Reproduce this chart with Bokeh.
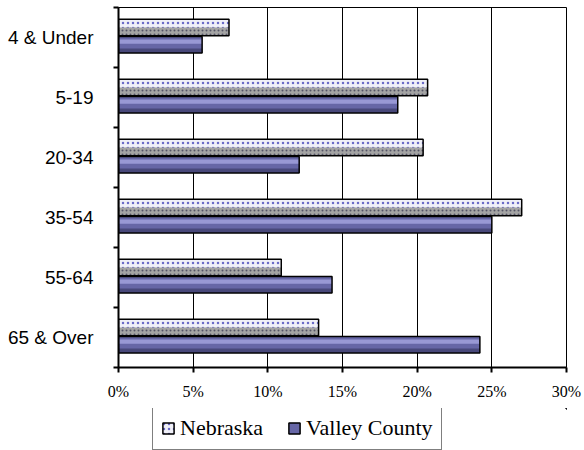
from bokeh.plotting import figure
from bokeh.layouts import column
from bokeh.models import (Range1d, FixedTicker, Legend, LegendItem,
                          PrintfTickFormatter, ColumnDataSource)
from bokeh.transform import dodge
from bokeh.embed import file_html
from bokeh.resources import INLINE

age_groups = ["4 & Under", "5-19", "20-34", "35-54", "55-64", "65 & Over"]
nebraska = [7.4, 20.7, 20.4, 27.0, 10.9, 13.4]
valley_county = [5.6, 18.7, 12.1, 25.0, 14.3, 24.2]
x_ticks = [0, 5, 10, 15, 20, 25, 30]

n = len(age_groups)
centers = [n - i - 0.5 for i in range(n)]

src = ColumnDataSource(dict(cat=age_groups, y=centers, ne=nebraska, vc=valley_county))

p = figure(width=584, height=408, output_backend="svg", toolbar_location=None,
           x_range=Range1d(0, 30), y_range=Range1d(0, n),
           min_border_left=118, min_border_right=18, min_border_top=7,
           min_border_bottom=41)
p.background_fill_color = "white"
p.border_fill_color = "white"
p.outline_line_color = "black"
p.outline_line_width = 1

NE_OFF = 0.165
VC_OFF = -0.12
H = 0.275

NE_TOP = dict(fill_color="#f0f0f8", hatch_pattern="dot", hatch_color="#6a6ac8",
              hatch_scale=5, hatch_weight=1.2)
NE_BOT = dict(fill_color="#a4a4a4", hatch_pattern="dot", hatch_color="#555566",
              hatch_scale=4, hatch_weight=1.0, line_color=None)
OUT = dict(fill_alpha=0, line_color="black", line_width=1.5)
VC_MAIN = dict(fill_color="#6666a6")

# Nebraska bars (dotted, bevelled look)
p.hbar(y=dodge("y", NE_OFF), left=0, right="ne", height=H, source=src,
       line_color=None, **NE_TOP)
p.hbar(y=dodge("y", NE_OFF - H / 4), left=0, right="ne", height=H / 2, source=src, **NE_BOT)
p.hbar(y=dodge("y", NE_OFF), left=0, right="ne", height=H, source=src, **OUT)

# Valley County bars (blue-purple cylinder look)
p.hbar(y=dodge("y", VC_OFF), left=0, right="vc", height=H, source=src,
       line_color=None, **VC_MAIN)
p.hbar(y=dodge("y", VC_OFF + 0.05), left=0, right="vc", height=0.07, source=src,
       fill_color="#9898d4", line_color=None)
p.hbar(y=dodge("y", VC_OFF - 0.1), left=0, right="vc", height=0.07, source=src,
       fill_color="#48487a", line_color=None)
p.hbar(y=dodge("y", VC_OFF), left=0, right="vc", height=H, source=src, **OUT)

# grid
p.xgrid.ticker = FixedTicker(ticks=x_ticks)
p.xgrid.grid_line_color = "black"
p.xgrid.grid_line_width = 1
p.ygrid.grid_line_color = None

# x axis
xa = p.xaxis[0]
xa.ticker = FixedTicker(ticks=x_ticks)
xa.formatter = PrintfTickFormatter(format="%d%%")
xa.major_label_text_font = "Liberation Serif"
xa.major_label_text_font_size = "16px"
xa.major_label_text_color = "black"
xa.major_tick_out = 5
xa.major_tick_in = 0
xa.major_tick_line_color = "black"
xa.major_tick_line_width = 2
xa.minor_tick_line_color = None
xa.axis_line_color = "black"
xa.axis_line_width = 2
xa.major_label_standoff = 10

# y axis
ya = p.yaxis[0]
ya.ticker = FixedTicker(ticks=centers, minor_ticks=list(range(n + 1)))
ya.major_label_overrides = {c: lab for c, lab in zip(centers, age_groups)}
ya.major_label_text_font = "Liberation Sans"
ya.major_label_text_font_size = "19px"
ya.major_label_text_color = "black"
ya.major_tick_line_color = None
ya.major_tick_out = 0
ya.major_tick_in = 0
ya.minor_tick_out = 5
ya.minor_tick_in = 0
ya.minor_tick_line_color = "black"
ya.minor_tick_line_width = 2
ya.axis_line_color = "black"
ya.axis_line_width = 2
ya.major_label_standoff = 20

# legend strip below the chart (its bars lie outside its visible ranges)
lg = figure(width=584, height=42, output_backend="svg", toolbar_location=None,
            x_range=Range1d(-200, -100), y_range=Range1d(-200, -100),
            min_border_left=0, min_border_right=0, min_border_top=0, min_border_bottom=0)
lg.axis.visible = False
lg.grid.grid_line_color = None
lg.outline_line_color = None
lg.background_fill_color = "white"
lg.border_fill_color = "white"
r_ne = lg.hbar(y="y", left=0, right="ne", height=H, source=src,
               line_color="black", line_width=1.5, **NE_TOP)
r_vc = lg.hbar(y="y", left=0, right="vc", height=H, source=src,
               line_color="black", line_width=1.5, **VC_MAIN)

legend = Legend(items=[LegendItem(label="Nebraska", renderers=[r_ne]),
                       LegendItem(label="Valley County", renderers=[r_vc])],
                location=(34, 0), orientation="horizontal",
                label_text_font="Liberation Serif", label_text_font_size="22px",
                label_text_color="black",
                glyph_width=14, glyph_height=14, label_standoff=5, spacing=24,
                padding=8, margin=0, border_line_color="black", border_line_width=1,
                background_fill_color="white", background_fill_alpha=1)
lg.add_layout(legend)

open("out.html", "w").write(file_html(column(p, lg, spacing=0), INLINE))
